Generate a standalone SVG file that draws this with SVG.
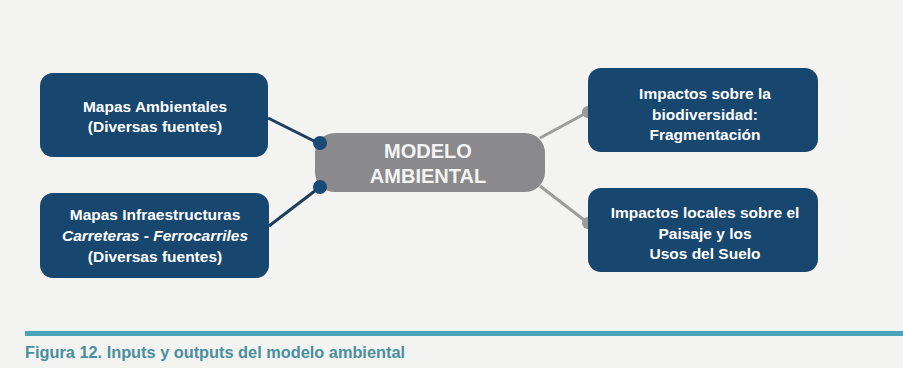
<svg xmlns="http://www.w3.org/2000/svg" width="903" height="368" viewBox="0 0 903 368">
<style>
.box{fill:#17466f;}
.t{font-family:"Liberation Sans",Arial,sans-serif;font-weight:bold;font-size:15.5px;fill:#ffffff;text-anchor:middle;}
.c{font-family:"Liberation Sans",Arial,sans-serif;font-weight:bold;font-size:20px;fill:#f4f4f4;text-anchor:middle;}
.ln{stroke:#1f3d5c;stroke-width:3;fill:none;}
.lg{stroke:#9c9c9c;stroke-width:3;fill:none;}
.dd{fill:#1a4a78;}
.dg{fill:#9a9a9a;}
</style>
<rect x="0" y="0" width="903" height="368" fill="#f3f3f1"/>
<g id="connectors">
<line class="ln" x1="268" y1="118" x2="320" y2="144"/>
<line class="ln" x1="269" y1="226" x2="320" y2="187"/>
<line class="lg" x1="540" y1="138" x2="588" y2="112"/>
<line class="lg" x1="540" y1="186" x2="588" y2="223"/>
</g>
<g id="modelo">
<rect x="315" y="133" width="230" height="59" rx="20" fill="#8a8a8c"/>
<text class="c" x="428" y="158">MODELO</text>
<text class="c" x="428" y="183">AMBIENTAL</text>
</g>
<g id="dots">
<circle class="dd" cx="320" cy="143" r="7"/>
<circle class="dd" cx="320" cy="187" r="7"/>
<circle class="dg" cx="588" cy="112" r="6"/>
<circle class="dg" cx="588" cy="223" r="6"/>
</g>
<g id="mapas-ambientales">
<rect class="box" x="40" y="73" width="228" height="84" rx="13"/>
<text class="t" x="155" y="112">Mapas Ambientales</text>
<text class="t" x="155" y="132">(Diversas fuentes)</text>
</g>
<g id="mapas-infraestructuras">
<rect class="box" x="40" y="193" width="229" height="85" rx="13"/>
<text class="t" x="155" y="220">Mapas Infraestructuras</text>
<text class="t" x="155" y="241" font-style="italic">Carreteras - Ferrocarriles</text>
<text class="t" x="155" y="262">(Diversas fuentes)</text>
</g>
<g id="impactos-biodiversidad">
<rect class="box" x="588" y="68" width="230" height="84" rx="13"/>
<text class="t" x="705" y="99">Impactos sobre la</text>
<text class="t" x="705" y="120">biodiversidad:</text>
<text class="t" x="705" y="140">Fragmentación</text>
</g>
<g id="impactos-locales">
<rect class="box" x="588" y="188" width="230" height="84" rx="13"/>
<text class="t" x="705" y="218">Impactos locales sobre el</text>
<text class="t" x="705" y="239">Paisaje y los</text>
<text class="t" x="705" y="259">Usos del Suelo</text>
</g>
<rect x="25" y="331" width="878" height="5" fill="#4aa3b8"/>
<text x="25" y="358" font-family="'Liberation Sans Narrow','Liberation Sans',Arial,sans-serif" font-weight="bold" font-size="16" fill="#4a8f9e" textLength="380" lengthAdjust="spacingAndGlyphs">Figura 12. Inputs y outputs del modelo ambiental</text>
</svg>
